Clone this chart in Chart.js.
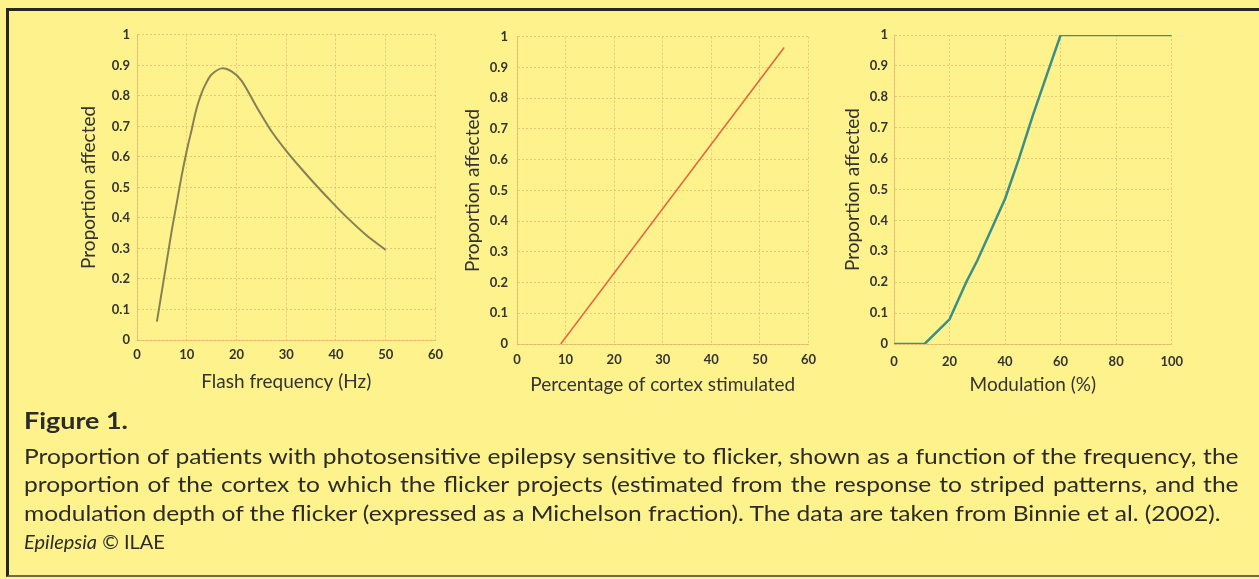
<!DOCTYPE html>
<html>
<head>
<meta charset="utf-8">
<script src="https://cdn.jsdelivr.net/npm/chart.js@4"></script>
<style>
  html, body { margin: 0; padding: 0; }
  body { width: 1259px; height: 579px; background: #fdf28c; position: relative; overflow: hidden; font-family: Lato, "Open Sans", sans-serif; color: #2b2b2b; }
  .frame { position: absolute; left: 6px; top: 8px; right: -10px; height: 564px; border-left: 3px solid #262626; border-top: 3px solid #262626; border-bottom: 2px solid #6a6a5a; }
  canvas { position: absolute; }
  .wrap { position: absolute; left: 24px; top: 0; width: 1039px; height: 579px; transform: scaleX(1.169); transform-origin: 0 0; }
  .cap { position: absolute; left: 0; width: 1039px; font-size: 21px; line-height: 28.5px; white-space: nowrap; }
  .cap.j { text-align: justify; text-align-last: justify; white-space: normal; }
  .fig { position: absolute; left: 0; top: 406px; font-size: 23px; font-weight: 700; }
  .src { position: absolute; left: 24px; top: 527px; font-size: 20px; line-height: 28.5px; }
</style>
</head>
<body>
<div class="frame"></div>
<canvas id="c1" width="375" height="380" style="left:75px;top:20px"></canvas>
<canvas id="c2" width="365" height="380" style="left:459px;top:20px"></canvas>
<canvas id="c3" width="354" height="380" style="left:839px;top:20px"></canvas>

<div class="wrap">
  <div class="fig">Figure 1.</div>
  <div class="cap j" style="top:442px">Proportion of patients with photosensitive epilepsy sensitive to flicker, shown as a function of the frequency, the</div>
  <div class="cap j" style="top:470px">proportion of the cortex to which the flicker projects (estimated from the response to striped patterns, and the</div>
  <div class="cap" style="top:499px">modulation depth of the flicker (expressed as a Michelson fraction). The data are taken from Binnie et al. (2002).</div>
</div>
<div class="src"><i>Epilepsia</i> © ILAE</div>

<script>
// values
const freqX = [4, 5, 6, 7, 8, 9, 10, 11, 12, 13, 14, 15, 17, 19, 21, 24, 27, 30, 33, 36, 39, 42, 46, 50];
const freqY = [0.06, 0.16, 0.26, 0.36, 0.45, 0.54, 0.62, 0.69, 0.76, 0.81, 0.845, 0.87, 0.89, 0.88, 0.85, 0.765, 0.685, 0.62, 0.562, 0.507, 0.455, 0.405, 0.345, 0.295];

const cortexX = [9, 55];
const cortexY = [0, 0.965];

const modX = [0, 11, 20, 26, 30, 35, 40, 45, 50, 55, 60, 100];
const modY = [0, 0, 0.08, 0.2, 0.27, 0.37, 0.47, 0.6, 0.74, 0.87, 1, 1];

const yTicks = [0, 0.1, 0.2, 0.3, 0.4, 0.5, 0.6, 0.7, 0.8, 0.9, 1];
const freqTicks = [0, 10, 20, 30, 40, 50, 60];
const cortexTicks = [0, 10, 20, 30, 40, 50, 60];
const modTicks = [0, 20, 40, 60, 80, 100];

const gridColor = 'rgba(225, 170, 110, 0.6)';
const textColor = '#333';

function makeChart(id, o) {
  const pts = o.xs.map((x, i) => ({ x: x, y: o.ys[i] }));
  return new Chart(document.getElementById(id), {
    type: 'scatter',
    data: {
      datasets: [{
        data: pts,
        showLine: true,
        borderColor: o.color,
        borderWidth: o.lineWidth,
        tension: o.tension,
        pointRadius: 0,
        fill: false
      }]
    },
    options: {
      responsive: false,
      animation: false,
      layout: { padding: o.padding },
      plugins: { legend: { display: false }, tooltip: { enabled: false } },
      scales: {
        x: {
          type: 'linear',
          min: o.xTicks[0],
          max: o.xTicks[o.xTicks.length - 1],
          afterBuildTicks: (s) => { s.ticks = o.xTicks.map(v => ({ value: v })); },
          afterFit: (s) => { s.height = o.xAxisHeight; },
          grid: { color: gridColor, drawTicks: false },
          border: { color: gridColor, dash: [2, 2] },
          ticks: { padding: o.xTickPad, color: textColor, font: { family: 'Lato', size: 13, weight: 'bold' } },
          title: { display: true, text: o.xTitle, color: textColor, padding: { top: 4, bottom: 4 }, font: { family: 'Lato', size: 19 } }
        },
        y: {
          min: 0,
          max: 1,
          afterBuildTicks: (s) => { s.ticks = yTicks.map(v => ({ value: v })); },
          afterFit: (s) => { s.width = o.yAxisWidth; },
          grid: { color: gridColor, drawTicks: false },
          border: { color: gridColor, dash: [2, 2] },
          ticks: {
            padding: o.yTickPad,
            color: textColor,
            font: { family: 'Lato', size: 13, weight: 'bold' },
            callback: (v) => String(+v.toFixed(1))
          },
          title: { display: true, text: 'Proportion affected', color: textColor, padding: { top: 2, bottom: 2 }, font: { family: 'Lato', size: 19 } }
        }
      }
    },
    plugins: [{
      id: 'dashGrid',
      beforeDraw: (chart) => {
        Object.values(chart.scales).forEach(sc => { sc.options.grid.borderDash = [2, 2]; });
      }
    }]
  });
}

makeChart('c1', {
  xs: freqX, ys: freqY, color: '#878055', lineWidth: 2, tension: 0.3,
  xTicks: freqTicks, xTitle: 'Flash frequency (Hz)',
  yAxisWidth: 62, xAxisHeight: 57, xTickPad: 7, yTickPad: 7,
  padding: { top: 13, right: 13, bottom: 3, left: 0 }
});

makeChart('c2', {
  xs: cortexX, ys: cortexY, color: '#e2643e', lineWidth: 1.5, tension: 0,
  xTicks: cortexTicks, xTitle: 'Percentage of cortex stimulated',
  yAxisWidth: 58, xAxisHeight: 56, xTickPad: 8, yTickPad: 9,
  padding: { top: 14, right: 13, bottom: 0, left: 0 }
});

makeChart('c3', {
  xs: modX, ys: modY, color: '#3b8f86', lineWidth: 2.5, tension: 0,
  xTicks: modTicks, xTitle: 'Modulation (%)',
  yAxisWidth: 55, xAxisHeight: 56, xTickPad: 10, yTickPad: 6,
  padding: { top: 15, right: 15, bottom: 0, left: 0 }
});
</script>
</body>
</html>
